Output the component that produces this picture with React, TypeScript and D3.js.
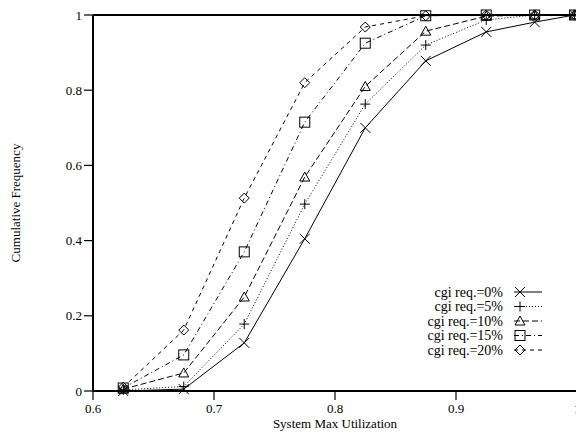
import React from "react";
import * as d3 from "d3";

const xValues = [0.625, 0.675, 0.725, 0.775, 0.825, 0.875, 0.925, 0.965, 0.998];
const seriesNames = ["cgi req.=0%", "cgi req.=5%", "cgi req.=10%", "cgi req.=15%", "cgi req.=20%"];
const req0 = [0.0, 0.005, 0.128, 0.405, 0.70, 0.878, 0.955, 0.981, 1.0];
const req5 = [0.003, 0.012, 0.178, 0.497, 0.763, 0.92, 0.987, 1.0, 1.0];
const req10 = [0.005, 0.048, 0.25, 0.569, 0.81, 0.957, 0.997, 1.0, 1.0];
const req15 = [0.008, 0.096, 0.37, 0.715, 0.925, 0.998, 1.0, 1.0, 1.0];
const req20 = [0.01, 0.162, 0.513, 0.82, 0.968, 0.998, 1.0, 1.0, 1.0];
const seriesValues = [req0, req5, req10, req15, req20];
const xTicks = [0.6, 0.7, 0.8, 0.9, 1.0];
const yTicks = [0, 0.2, 0.4, 0.6, 0.8, 1];
const dashes = [null, "1,2", "6,3", "5,3,1,3", "4,4"];
const markers = ["x", "plus", "triangle", "square", "diamond"];

const FONT = "'Liberation Serif', 'Times New Roman', serif";

function Marker({ type, x, y }: { type: string; x: number; y: number }) {
  const s = 5;
  const common = { fill: "none", stroke: "#000", strokeWidth: 1 };
  if (type === "x")
    return <path d={`M${x - s},${y - s}L${x + s},${y + s}M${x - s},${y + s}L${x + s},${y - s}`} {...common} />;
  if (type === "plus")
    return <path d={`M${x - s},${y}L${x + s},${y}M${x},${y - s}L${x},${y + s}`} {...common} />;
  if (type === "triangle")
    return <path d={`M${x},${y - s}L${x + s},${y + s * 0.8}L${x - s},${y + s * 0.8}Z`} {...common} />;
  if (type === "square")
    return <rect x={x - s} y={y - s} width={2 * s} height={2 * s} {...common} />;
  return <path d={`M${x},${y - s}L${x + s},${y}L${x},${y + s}L${x - s},${y}Z`} {...common} />;
}

export default function App() {
  const x = d3.scaleLinear().domain([0.6, 1.0]).range([93, 577]);
  const y = d3.scaleLinear().domain([0, 1]).range([391, 15]);
  const line = d3
    .line<number>()
    .x((_, i) => x(xValues[i]))
    .y((d) => y(d));

  const legX = 503;
  const legY0 = 292;
  const legStep = 14.5;

  return (
    <svg
      width={576}
      height={434}
      style={{ position: "absolute", left: 0, top: 0, background: "#fff" }}
      fontFamily={FONT}
    >
      {seriesValues.map((vals, si) => (
        <g key={si}>
          <path
            d={line(vals) || ""}
            fill="none"
            stroke="#000"
            strokeWidth={1}
            strokeDasharray={dashes[si] || undefined}
          />
          {vals.map((v, i) => (
            <Marker key={i} type={markers[si]} x={x(xValues[i])} y={y(v)} />
          ))}
        </g>
      ))}
      {/* axes */}
      <line x1={x(0.6)} x2={577} y1={y(0)} y2={y(0)} stroke="#000" strokeWidth={2} />
      <line x1={x(0.6)} x2={577} y1={y(1)} y2={y(1)} stroke="#000" strokeWidth={2} />
      <line x1={x(0.6)} x2={x(0.6)} y1={y(0)} y2={y(1)} stroke="#000" strokeWidth={2} />
      {yTicks.map((t) => (
        <g key={t}>
          <line x1={x(0.6) - 9} x2={x(0.6)} y1={y(t)} y2={y(t)} stroke="#000" strokeWidth={1.2} />
          <text x={x(0.6) - 11} y={y(t)} dy="0.35em" textAnchor="end" fontSize={13}>
            {t === 0 || t === 1 ? String(t) : t.toFixed(1)}
          </text>
        </g>
      ))}
      {xTicks.map((t) => (
        <g key={t}>
          <line x1={x(t)} x2={x(t)} y1={y(0)} y2={y(0) + 9} stroke="#000" strokeWidth={1.2} />
          <text x={x(t)} y={y(0) + 22} textAnchor="middle" fontSize={13}>
            {t === 1 ? "1" : t.toFixed(1)}
          </text>
        </g>
      ))}
      <text x={335} y={428} textAnchor="middle" fontSize={13}>
        System Max Utilization
      </text>
      <text
        transform={`translate(20,${(y(0) + y(1)) / 2}) rotate(-90)`}
        textAnchor="middle"
        fontSize={13}
      >
        Cumulative Frequency
      </text>
      {/* legend */}
      {seriesNames.map((name, si) => {
        const ly = legY0 + si * legStep;
        return (
          <g key={name}>
            <text x={legX} y={ly} dy="0.35em" textAnchor="end" fontSize={14}>
              {name}
            </text>
            <line
              x1={514}
              x2={542}
              y1={ly}
              y2={ly}
              stroke="#000"
              strokeWidth={1}
              strokeDasharray={dashes[si] || undefined}
            />
            <Marker type={markers[si]} x={520} y={ly} />
          </g>
        );
      })}
    </svg>
  );
}
